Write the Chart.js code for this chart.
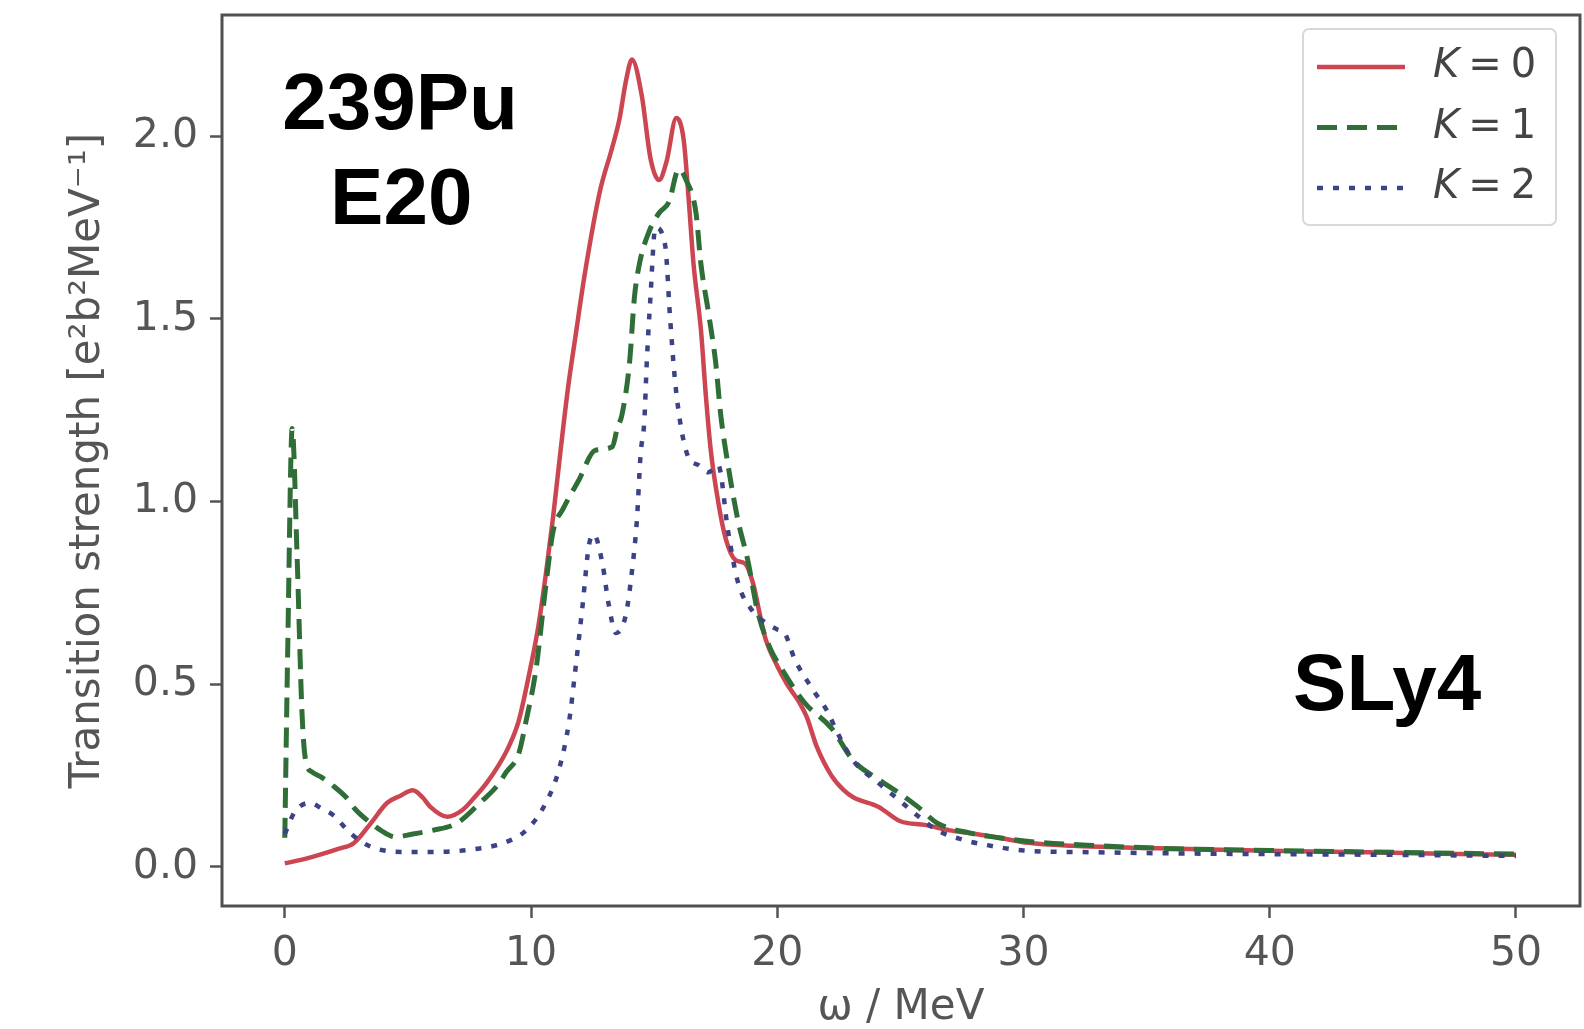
<!DOCTYPE html>
<html>
<head>
<meta charset="utf-8">
<title>239Pu E20 transition strength</title>
<script src="https://cdn.jsdelivr.net/npm/chart.js@4.4.0/dist/chart.umd.min.js"></script>
<style>
  html, body { margin: 0; padding: 0; background: #fff; }
  canvas { display: block; }
</style>
</head>
<body>
<canvas id="chartContainer" width="1584" height="1029"></canvas>
<script>
// K = 0 (solid red)
const omegaK0 = [0, 0.7, 1.5, 2.2, 2.8, 3.5, 4.15, 4.7, 5.2, 5.6, 5.9, 6.6, 7.2, 7.7, 8.2, 8.7, 9.1, 9.5, 9.9, 10.3,
  10.6, 10.9, 11.2, 11.5, 11.8, 12.2, 12.8, 13.3, 13.6, 13.85, 14.1, 14.5, 14.85, 15.2, 15.5, 15.9, 16.2, 16.4, 16.6, 16.9,
  17.1, 17.3, 17.6, 17.9, 18.3, 18.7, 19.0, 19.5, 20.0, 20.4, 20.9, 21.2, 21.6, 22.2, 22.7, 23.1, 24.1, 25.0, 26.0, 27.0,
  27.8, 29, 30.2, 32, 35, 38, 41, 44, 47, 50];
const strengthK0 = [0.01, 0.02, 0.035, 0.05, 0.065, 0.12, 0.175, 0.195, 0.21, 0.19, 0.165, 0.137, 0.155, 0.19, 0.23, 0.28, 0.33, 0.40, 0.52, 0.66,
  0.80, 0.96, 1.14, 1.31, 1.45, 1.63, 1.85, 1.97, 2.05, 2.15, 2.21, 2.11, 1.94, 1.88, 1.93, 2.05, 1.99, 1.83, 1.65, 1.47,
  1.29, 1.14, 1.0, 0.9, 0.84, 0.83, 0.78, 0.63, 0.55, 0.50, 0.45, 0.41, 0.33, 0.25, 0.21, 0.19, 0.165, 0.125, 0.115, 0.10,
  0.093, 0.08, 0.066, 0.058, 0.052, 0.047, 0.043, 0.04, 0.036, 0.033];

// K = 1 (dashed green)
const omegaK1 = [0, 0.12, 0.3, 0.5, 0.7, 0.85, 1.1, 1.5, 2.0, 2.5, 2.9, 3.4, 3.9, 4.5, 5.2, 6.0, 7.0, 8.0, 8.6, 9.0,
  9.5, 9.8, 10.2, 10.6, 10.9, 11.3, 11.95, 12.6, 13.3, 13.5, 13.7, 14.0, 14.2, 14.4, 14.8, 15.2, 15.6, 16.0, 16.3, 16.7,
  16.9, 17.2, 17.5, 17.7, 18.0, 18.4, 18.8, 19.2, 19.7, 20.2, 21.1, 22.2, 23.1, 24.1, 25.0, 25.7, 26.5, 27.8, 29, 30.5,
  33, 36, 40, 45, 50];
const strengthK1 = [0.08, 0.6, 1.2, 0.85, 0.42, 0.29, 0.26, 0.245, 0.22, 0.19, 0.155, 0.125, 0.10, 0.082, 0.09, 0.10, 0.12, 0.18, 0.22, 0.26,
  0.31, 0.40, 0.54, 0.77, 0.92, 0.98, 1.06, 1.14, 1.15, 1.20, 1.24, 1.38, 1.56, 1.65, 1.74, 1.79, 1.82, 1.91, 1.88, 1.79,
  1.65, 1.52, 1.38, 1.24, 1.1, 0.95, 0.84, 0.70, 0.60, 0.54, 0.45, 0.38, 0.29, 0.24, 0.20, 0.165, 0.12, 0.093, 0.08, 0.068,
  0.058, 0.05, 0.045, 0.04, 0.035];

// K = 2 (dotted blue)
const omegaK2 = [0, 0.4, 1.0, 1.5, 2.0, 2.65, 3.5, 4.8, 6.2, 7.5, 8.85, 9.8, 10.6, 11.15, 11.55, 11.8, 12.1, 12.35, 12.55, 12.9,
  13.15, 13.45, 13.85, 14.1, 14.3, 14.45, 14.6, 14.7, 14.85, 15.05, 15.45, 15.65, 15.85, 16.1, 16.4, 16.8, 17.2, 17.6, 18.0, 18.4,
  19.0, 19.5, 20.0, 20.3, 20.7, 21.5, 22.0, 22.5, 23.1, 24.1, 25.0, 25.7, 26.5, 27.5, 28.5, 30, 33, 36, 40, 45,
  50];
const strengthK2 = [0.09, 0.15, 0.175, 0.16, 0.14, 0.093, 0.055, 0.041, 0.041, 0.047, 0.065, 0.10, 0.175, 0.27, 0.40, 0.54, 0.72, 0.88, 0.91, 0.83,
  0.72, 0.64, 0.69, 0.81, 0.95, 1.13, 1.22, 1.38, 1.56, 1.75, 1.70, 1.50, 1.33, 1.20, 1.12, 1.10, 1.08, 1.10, 0.92, 0.78,
  0.70, 0.67, 0.65, 0.64, 0.57, 0.48, 0.43, 0.36, 0.29, 0.23, 0.18, 0.14, 0.10, 0.075, 0.06, 0.045, 0.04, 0.037, 0.035, 0.033,
  0.03];

const kValues = ['0', '1', '2'];
const xTicks = [0, 10, 20, 30, 40, 50];
const yTicks = [0, 0.5, 1.0, 1.5, 2.0];

// text labels placed in data coordinates (baseline)
const notes = [
  { text: '239Pu', x: 4.68, y: 2.019 },
  { text: 'E20', x: 4.73, y: 1.759 },
  { text: 'SLy4', x: 44.77, y: 0.43 }
];

const toPoints = (xs, ys) => xs.map((x, i) => ({ x: x, y: ys[i] }));
const tickFont = { family: '"DejaVu Sans", sans-serif', size: 41 };
const titleFont = { family: '"DejaVu Sans", sans-serif', size: 42, lineHeight: 1 };

// full box round the plot, like matplotlib spines
const framePlugin = {
  id: 'frame',
  afterDatasetsDraw(chart) {
    const { ctx, chartArea: a } = chart;
    ctx.save();
    ctx.strokeStyle = '#505050';
    ctx.lineWidth = 3;
    ctx.strokeRect(a.left, a.top, a.right - a.left, a.bottom - a.top);
    ctx.restore();
  }
};

const notesPlugin = {
  id: 'notes',
  afterDatasetsDraw(chart) {
    const { ctx, scales: { x, y } } = chart;
    ctx.save();
    ctx.fillStyle = '#000';
    ctx.font = 'bold 80px "Liberation Sans", Arial, sans-serif';
    ctx.textAlign = 'center';
    ctx.textBaseline = 'alphabetic';
    notes.forEach(n => ctx.fillText(n.text, x.getPixelForValue(n.x), y.getPixelForValue(n.y)));
    ctx.restore();
  }
};

// legend box inside the upper right corner
const legendPlugin = {
  id: 'kLegend',
  afterDraw(chart) {
    const { ctx, chartArea: a } = chart;
    const w = 253, h = 196;
    const left = a.right - 24 - w, top = a.top + 14;
    ctx.save();
    ctx.beginPath();
    ctx.roundRect(left, top, w, h, 6);
    ctx.fillStyle = 'rgba(255,255,255,0.8)';
    ctx.fill();
    ctx.strokeStyle = '#d8d8d8';
    ctx.lineWidth = 2;
    ctx.stroke();
    chart.data.datasets.forEach((ds, i) => {
      const cy = top + 38 + i * 60.5;
      ctx.beginPath();
      ctx.setLineDash(ds.borderDash || []);
      ctx.strokeStyle = ds.borderColor;
      ctx.lineWidth = ds.borderWidth;
      ctx.moveTo(left + 14, cy);
      ctx.lineTo(left + 102, cy);
      ctx.stroke();
      ctx.setLineDash([]);
      ctx.fillStyle = '#444';
      ctx.textBaseline = 'middle';
      ctx.textAlign = 'left';
      let tx = left + 130;
      ctx.font = 'italic 40px "DejaVu Sans", sans-serif';
      ctx.fillText('K', tx, cy);
      tx += ctx.measureText('K').width + 9;
      ctx.font = '40px "DejaVu Sans", sans-serif';
      ctx.fillText('=', tx, cy);
      tx += ctx.measureText('=').width + 9;
      ctx.fillText(kValues[i], tx, cy);
    });
    ctx.restore();
  }
};

const lineStyle = { fill: false, pointRadius: 0, cubicInterpolationMode: 'monotone', borderCapStyle: 'butt' };

new Chart(document.getElementById('chartContainer').getContext('2d'), {
  type: 'line',
  data: {
    datasets: [
      Object.assign({ label: 'K = ' + kValues[0], data: toPoints(omegaK0, strengthK0),
        borderColor: '#cc4652', borderWidth: 4.5, order: 3 }, lineStyle),
      Object.assign({ label: 'K = ' + kValues[1], data: toPoints(omegaK1, strengthK1),
        borderColor: '#2f6e37', borderWidth: 5, borderDash: [20, 10], order: 2 }, lineStyle),
      Object.assign({ label: 'K = ' + kValues[2], data: toPoints(omegaK2, strengthK2),
        borderColor: '#3d4284', borderWidth: 4.5, borderDash: [6, 10], order: 1 }, lineStyle)
    ]
  },
  options: {
    responsive: false,
    animation: false,
    layout: { padding: { left: 0, top: 15, right: 4, bottom: 0 } },
    plugins: { legend: { display: false }, tooltip: { enabled: false } },
    scales: {
      x: {
        type: 'linear',
        min: -2.55,
        max: 52.6,
        afterBuildTicks: s => { s.ticks = xTicks.map(v => ({ value: v })); },
        afterFit: s => { s.height = 123; s.paddingLeft = 0; s.paddingRight = 0; },
        grid: { display: true, drawOnChartArea: false, drawTicks: true, tickLength: 12, tickWidth: 2.5, tickColor: '#555' },
        border: { display: false },
        ticks: { font: tickFont, color: '#555', padding: 12, maxRotation: 0 },
        title: { display: true, text: 'ω / MeV', font: titleFont, color: '#555', padding: { top: 0, bottom: 0 } }
      },
      y: {
        type: 'linear',
        min: -0.107,
        max: 2.332,
        afterBuildTicks: s => { s.ticks = yTicks.map(v => ({ value: v })); },
        afterFit: s => { s.width = 222; s.paddingTop = 0; s.paddingBottom = 0; },
        grid: { display: true, drawOnChartArea: false, drawTicks: true, tickLength: 12, tickWidth: 2.5, tickColor: '#555' },
        border: { display: false },
        ticks: { font: tickFont, color: '#555', padding: 12, callback: v => v.toFixed(1) },
        title: { display: true, text: 'Transition strength [e²b²MeV⁻¹]', font: titleFont, color: '#555', padding: { top: 67, bottom: 0 } }
      }
    }
  },
  plugins: [framePlugin, notesPlugin, legendPlugin]
});
</script>
</body>
</html>
